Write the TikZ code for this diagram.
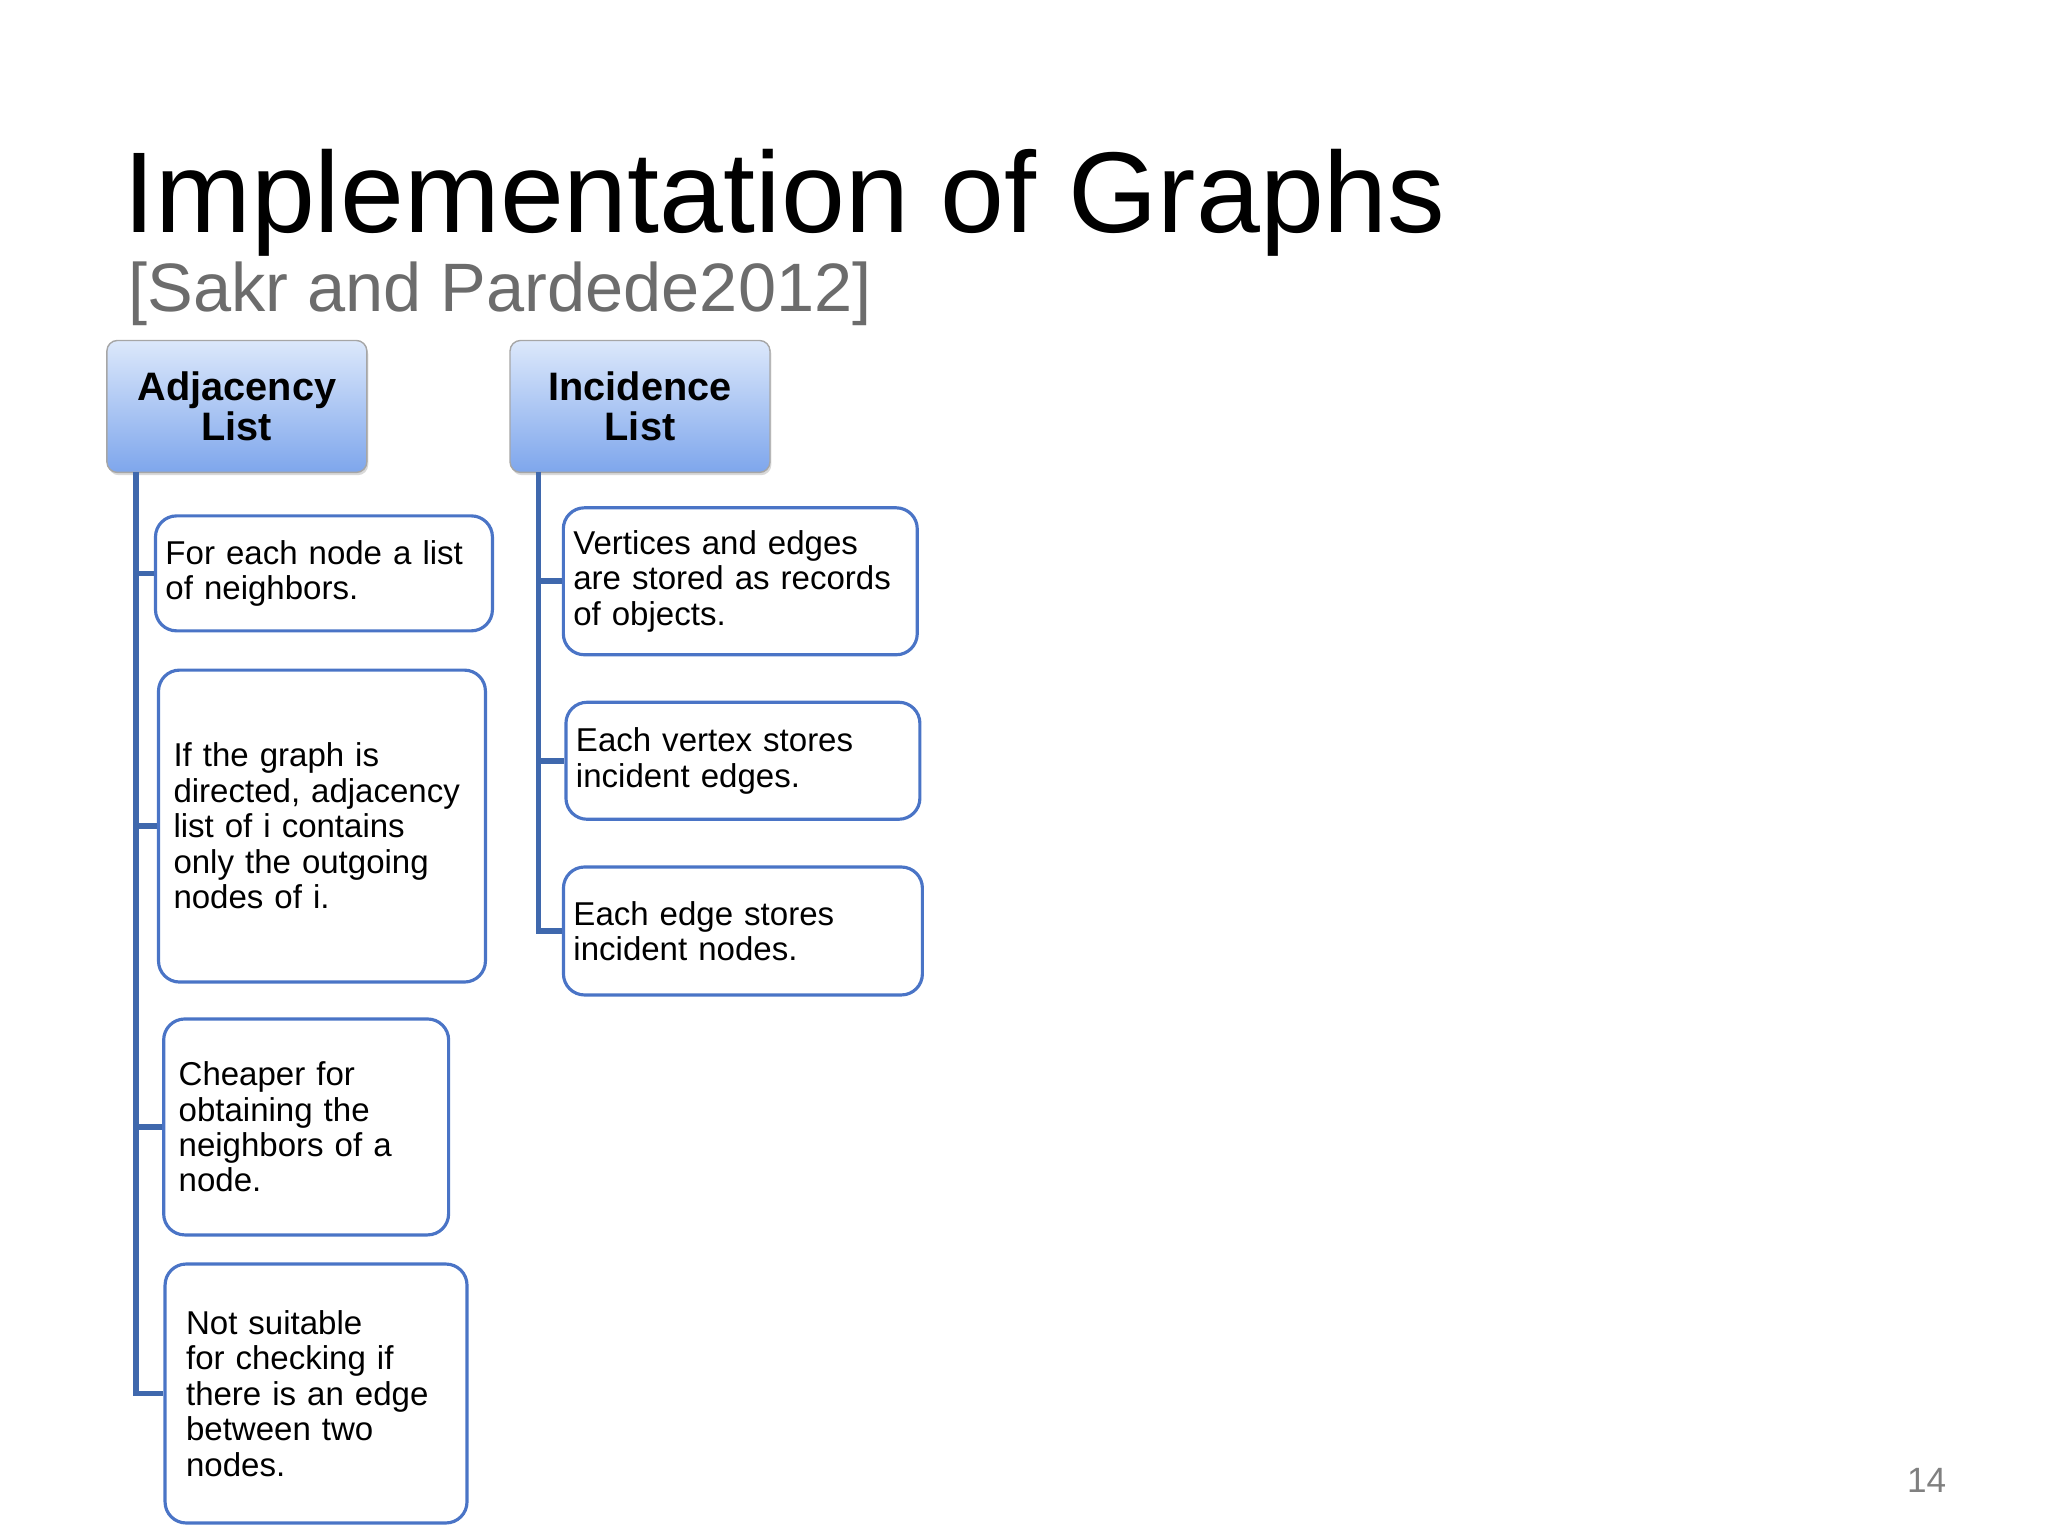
\documentclass[tikz,border=0pt]{standalone}
\usepackage{fontspec}
\setmainfont{Liberation Sans}
\usetikzlibrary{positioning,shadows}
\definecolor{tree-blue}{HTML}{3F68AD}
\definecolor{box-blue}{HTML}{4A74C6}
\definecolor{head-top}{HTML}{DCE8FB}
\definecolor{head-bot}{HTML}{7EA6EC}
\newcommand{\nohyph}{\hyphenpenalty=10000\relax\exhyphenpenalty=10000\relax}

\begin{document}
\begin{tikzpicture}[
    x=0.0132cm, y=-0.0132cm,
    head/.style={rectangle, draw=gray!70, rounded corners=3pt, top color=head-top,
                 bottom color=head-bot, minimum width=2.6cm, minimum height=1.32cm,
                 align=center, font=\fontsize{11.3}{11.5}\selectfont\bfseries,
                 drop shadow={opacity=0.3, shadow xshift=0.4pt, shadow yshift=-0.8pt}},
    sub/.style={rectangle, draw=box-blue, line width=0.9pt, rounded corners=6pt,
                align=left, inner xsep=0.1cm,
                font=\fontsize{9.4}{10.1}\selectfont\nohyph},
    branch/.style={draw=tree-blue, line width=1.6pt}
]
  \useasboundingbox (0,0) rectangle (1552,1164);

  % Title
  \node[anchor=base west, inner sep=0, font=\fontsize{32.7}{36}\selectfont] (title)
    at (93,176) {Implementation of Graphs};
  \node[anchor=base west, inner sep=0, text=gray!85!black, font=\fontsize{19.5}{22}\selectfont]
    (cite) at (97,236) {[Sakr and Pardede2012]};

  % Headers
  \node[head] (adj) at (179.5,308) {Adjacency\\List};
  \node[head] (inc) at (485,308) {Incidence\\List};

  % Adjacency list items
  \node[sub, minimum width=3.37cm, minimum height=1.15cm, text width=3.17cm] (a1)
    at (245.5,434.5) {For each node a list of neighbors.};
  \node[sub, minimum width=3.27cm, minimum height=3.12cm, text width=2.97cm] (a2)
    at (244,626) {If the graph is directed, adjacency list of i contains only the outgoing nodes of i.};
  \node[sub, minimum width=2.85cm, minimum height=2.16cm, text width=2.55cm] (a3)
    at (232,854) {Cheaper for obtaining the neighbors of a node.};
  \node[sub, minimum width=3.02cm, minimum height=2.59cm, text width=2.6cm] (a4)
    at (239.5,1056) {Not suitable for checking if there is an edge between two nodes.};

  % Incidence list items
  \node[sub, minimum width=3.54cm, minimum height=1.47cm, text width=3.34cm] (i1)
    at (561,440.5) {Vertices and edges are stored as records of objects.};
  \node[sub, minimum width=3.54cm, minimum height=1.17cm, text width=3.34cm] (i2)
    at (563,576.5) {Each vertex stores incident edges.};
  \node[sub, minimum width=3.59cm, minimum height=1.28cm, text width=3.39cm] (i3)
    at (563,705.5) {Each edge stores\\incident nodes.};

  % Tree lines
  \coordinate (adjroot) at (103,358);
  \coordinate (incroot) at (408,358);
  \foreach \n in {a1,a2,a3,a4}
    \draw[branch] (adjroot) |- (\n.west);
  \foreach \n in {i1,i2,i3}
    \draw[branch] (incroot) |- (\n.west);

  % Page number
  \node[text=gray, font=\fontsize{10}{12}\selectfont] (page) at (1460,1122) {14};
\end{tikzpicture}
\end{document}
